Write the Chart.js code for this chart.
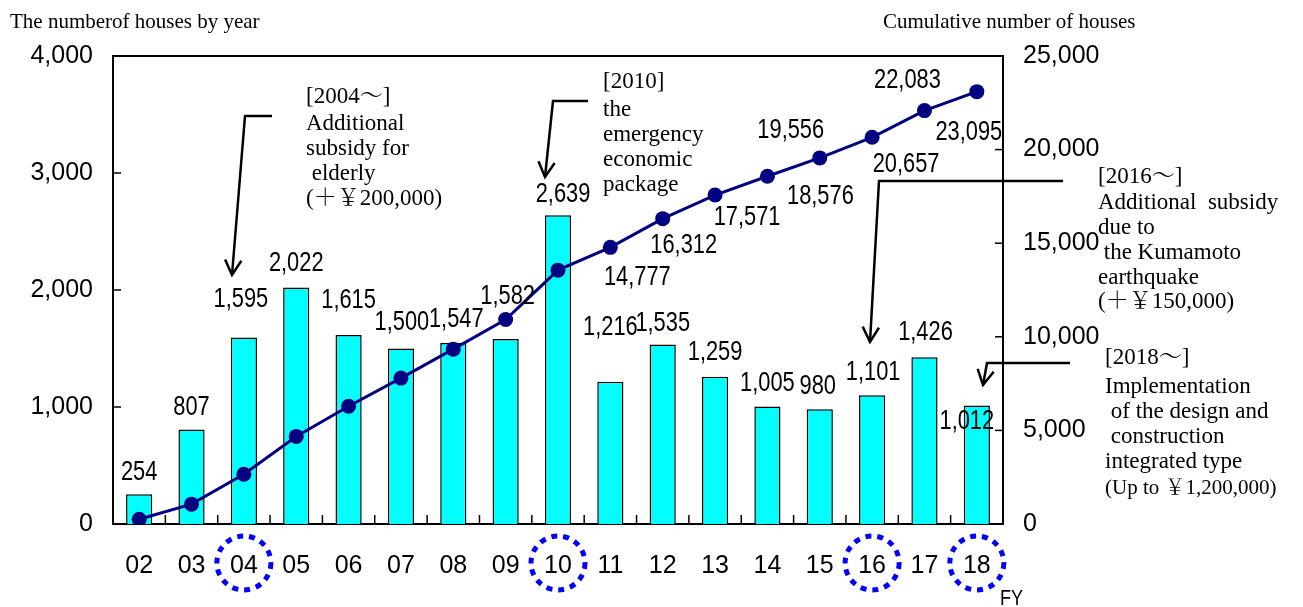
<!DOCTYPE html>
<html>
<head>
<meta charset="utf-8">
<script src="https://cdn.jsdelivr.net/npm/chart.js@4.4.1/dist/chart.umd.min.js"></script>
<style>
html,body{margin:0;padding:0;background:#fff;}
#wrap{width:1303px;height:607px;position:relative;}
</style>
</head>
<body>
<div id="wrap"><canvas id="c"></canvas></div>
<script>
// ---------- data ----------
const years = ['02','03','04','05','06','07','08','09','10','11','12','13','14','15','16','17','18'];
const housesByYear = [254,807,1595,2022,1615,1500,1547,1582,2639,1216,1535,1259,1005,980,1101,1426,1012];
const cumulativeHouses = [254,1061,2656,4678,6293,7793,9340,10922,13561,14777,16312,17571,18576,19556,20657,22083,23095];
const cumulativeLabelShown = [false,false,false,false,false,false,false,false,false,true,true,true,true,true,true,true,true];
const leftTickValues = [0,1000,2000,3000,4000];
const rightTickValues = [0,5000,10000,15000,20000,25000];
const highlightedYears = ['04','10','16','18'];
const leftAxisTitle = 'The numberof houses by year';
const rightAxisTitle = 'Cumulative number of houses';
const xUnit = 'FY';
const notes = [
  ['[2004～]','Additional','subsidy for',' elderly','(＋￥200,000)'],
  ['[2010]','the','emergency','economic','package'],
  ['[2016～]','Additional  subsidy','due to',' the Kumamoto','earthquake','(＋￥150,000)'],
  ['[2018～]','Implementation',' of the design and',' construction','integrated type','(Up to ￥1,200,000)']
];

// ---------- styles / placement ----------
const SANS = "'Liberation Sans',Arial,sans-serif";
const SERIF = "'Liberation Serif','Noto Serif CJK JP','Noto Sans CJK JP',serif";
const fmt = v => Number(v).toLocaleString('en-US');

// label centre offsets [dx, dy] relative to bar top centre
const barLabelOffsets = [[0,-22],[0,-22],[-3,-38],[0,-24],[0,-35],[1,-26],[3,-24],[2,-43],[5,-21],[0,-54],[0,-21],[0,-24],[0,-23],[-2,-23],[1,-23],[1,-25],[-10,16]];
// label centre offsets relative to line point
const lineLabelOffsets = [null,null,null,null,null,null,null,null,null,[27,30],[21,27],[32,22],[53,20],[-29,-28],[34,27],[-17,-30],[-8,41]];

const noteLayout = [
  {x:306, ys:[97,124,149,174,199], sizes:[23,23,23,23,23]},
  {x:603, ys:[82,110,135,160,185], sizes:[23,23,23,23,23]},
  {x:1098, ys:[177,203,228,253,278,302], sizes:[23,23,23,23,23,23]},
  {x:1105, ys:[358,387,412,437,462,488], sizes:[23,23,23,23,23,21]}
];
const arrows = [
  [[272,116],[245,116],[232,275]],
  [[588,101],[553,101],[545,177]],
  [[1063,181],[879,181],[870,342]],
  [[1070,363],[987,363],[983,385]]
];

function drawArrow(ctx, pts){
  ctx.save();
  ctx.strokeStyle = '#000';
  ctx.lineWidth = 2.5;
  ctx.beginPath();
  ctx.moveTo(pts[0][0], pts[0][1]);
  for (let i=1;i<pts.length;i++) ctx.lineTo(pts[i][0], pts[i][1]);
  ctx.stroke();
  const a = pts[pts.length-2], b = pts[pts.length-1];
  const ang = Math.atan2(b[1]-a[1], b[0]-a[0]);
  const L = 17, sp = 0.5;
  ctx.beginPath();
  ctx.moveTo(b[0]-L*Math.cos(ang-sp), b[1]-L*Math.sin(ang-sp));
  ctx.lineTo(b[0], b[1]);
  ctx.lineTo(b[0]-L*Math.cos(ang+sp), b[1]-L*Math.sin(ang+sp));
  ctx.stroke();
  ctx.restore();
}

function condensedText(ctx, text, x, y, sx){
  ctx.save();
  ctx.translate(x, y);
  ctx.scale(sx, 1);
  ctx.fillText(text, 0, 0);
  ctx.restore();
}

const decorPlugin = {
  id: 'decor',
  beforeDatasetsDraw(chart){
    const {ctx, chartArea:a, scales} = chart;
    ctx.save();
    ctx.strokeStyle = '#000';
    ctx.lineWidth = 2;
    ctx.strokeRect(a.left, a.top, a.right-a.left, a.bottom-a.top);
    ctx.lineWidth = 1.5;
    leftTickValues.forEach(v=>{
      const y = scales.y.getPixelForValue(v);
      ctx.beginPath(); ctx.moveTo(a.left, y); ctx.lineTo(a.left+8, y); ctx.stroke();
    });
    rightTickValues.forEach(v=>{
      const y = scales.y2.getPixelForValue(v);
      ctx.beginPath(); ctx.moveTo(a.right, y); ctx.lineTo(a.right-8, y); ctx.stroke();
    });
    for (let i=1;i<years.length;i++){
      const x = (scales.x.getPixelForValue(i-1)+scales.x.getPixelForValue(i))/2;
      ctx.beginPath(); ctx.moveTo(x, a.bottom); ctx.lineTo(x, a.bottom-9); ctx.stroke();
    }
    ctx.restore();
  },
  afterDraw(chart){
    const {ctx, scales} = chart;
    ctx.save();
    ctx.fillStyle = '#000';
    ctx.textBaseline = 'middle';
    ctx.textAlign = 'left';
    ctx.font = `21px ${SERIF}`;
    ctx.fillText(leftAxisTitle, 10, 22);
    ctx.fillText(rightAxisTitle, 883, 22);
    ctx.font = `22px ${SANS}`;
    condensedText(ctx, xUnit, 1000, 599, 0.82);

    // dotted circles round highlighted years
    ctx.strokeStyle = '#0000FF';
    ctx.lineWidth = 5;
    ctx.setLineDash([6,6]);
    highlightedYears.forEach(yr=>{
      const i = years.indexOf(yr);
      const x = scales.x.getPixelForValue(i);
      ctx.beginPath(); ctx.arc(x, 563, 27, 0, Math.PI*2); ctx.stroke();
    });
    ctx.setLineDash([]);

    // value labels
    ctx.fillStyle = '#000';
    ctx.textAlign = 'center';
    ctx.font = `28px ${SANS}`;
    chart.getDatasetMeta(0).data.forEach((el,i)=>{
      const o = barLabelOffsets[i];
      condensedText(ctx, fmt(housesByYear[i]), el.x+o[0], el.y+o[1], 0.78);
    });
    chart.getDatasetMeta(1).data.forEach((el,i)=>{
      if (!cumulativeLabelShown[i]) return;
      const o = lineLabelOffsets[i];
      condensedText(ctx, fmt(cumulativeHouses[i]), el.x+o[0], el.y+o[1], 0.78);
    });

    // notes
    ctx.textAlign = 'left';
    notes.forEach((lines,k)=>{
      const L = noteLayout[k];
      lines.forEach((t,j)=>{
        ctx.font = `${L.sizes[j]}px ${SERIF}`;
        ctx.fillText(t, L.x, L.ys[j]);
      });
    });
    arrows.forEach(p=>drawArrow(ctx,p));
    ctx.restore();
  }
};

new Chart(document.getElementById('c'), {
  type: 'bar',
  data: {
    labels: years,
    datasets: [
      {
        type: 'bar',
        data: housesByYear,
        yAxisID: 'y',
        backgroundColor: '#00FFFF',
        borderColor: '#000',
        borderWidth: 1.5,
        categoryPercentage: 0.5,
        barPercentage: 1,
        order: 2
      },
      {
        type: 'line',
        data: cumulativeHouses,
        yAxisID: 'y2',
        borderColor: '#000080',
        borderWidth: 3,
        pointRadius: 7.5,
        pointBackgroundColor: '#000080',
        pointBorderWidth: 0,
        tension: 0,
        order: 1
      }
    ]
  },
  options: {
    responsive: true,
    maintainAspectRatio: false,
    animation: false,
    layout: {padding: {top: 56, left: 0, right: 0, bottom: 0}},
    plugins: {legend: {display: false}, tooltip: {enabled: false}},
    scales: {
      x: {
        grid: {display: false, drawTicks: false},
        border: {display: false},
        ticks: {font: {size: 25, family: SANS}, color: '#000', padding: 27, autoSkip: false, maxRotation: 0},
        afterFit(s){ s.height = 83; }
      },
      y: {
        position: 'left',
        min: 0, max: 4000,
        afterBuildTicks(s){ s.ticks = leftTickValues.map(v=>({value:v})); },
        grid: {display: false, drawTicks: false},
        border: {display: false},
        ticks: {font: {size: 25, family: SANS}, color: '#000', padding: 20, callback: v=>fmt(v)},
        afterFit(s){ s.width = 113; }
      },
      y2: {
        position: 'right',
        min: 0, max: 25000,
        afterBuildTicks(s){ s.ticks = rightTickValues.map(v=>({value:v})); },
        grid: {display: false, drawTicks: false},
        border: {display: false},
        ticks: {font: {size: 25, family: SANS}, color: '#000', padding: 20, callback: v=>fmt(v)},
        afterFit(s){ s.width = 300; }
      }
    }
  },
  plugins: [decorPlugin]
});
</script>
</body>
</html>
